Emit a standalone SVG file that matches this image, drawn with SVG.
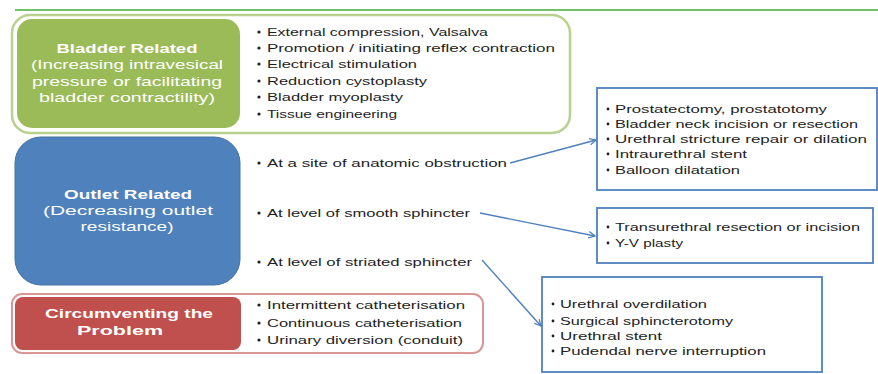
<svg xmlns="http://www.w3.org/2000/svg" width="878" height="374" viewBox="0 0 878 374">
  <defs>
    <marker id="arrow" viewBox="0 0 10 10" refX="9" refY="5" markerWidth="8" markerHeight="8" markerUnits="userSpaceOnUse" orient="auto">
      <path d="M1,1 L9,5 L1,9" fill="none" stroke="#4f81bd" stroke-width="1.6"/>
    </marker>
    <style>
      .head { font-family: "Liberation Sans", Arial, sans-serif; font-size: 13px; fill: #ffffff; text-anchor: middle; }
      .head-b { font-weight: bold; }
      .item { font-family: "Liberation Sans", Arial, sans-serif; font-size: 11px; fill: #1e1e1e; }
      .dot { fill: #1e1e1e; }
      .box { fill: #ffffff; stroke: #4f81bd; stroke-width: 1.8; }
      .link { fill: none; stroke: #4f81bd; stroke-width: 1.4; marker-end: url(#arrow); }
    </style>
  </defs>

  <rect width="878" height="374" fill="#ffffff"/>

  <!-- header rule -->
  <line x1="15" y1="10" x2="878" y2="10" stroke="#72c069" stroke-width="2"/>

  <!-- Bladder related group -->
  <g id="bladder">
    <rect x="12" y="15" width="558" height="118" rx="18" fill="#ffffff" stroke="#b9d18f" stroke-width="2.5"/>
    <rect x="17" y="19" width="223" height="109" rx="15" fill="#9bbb59"/>
    <text class="head head-b" x="127" y="53" textLength="141" lengthAdjust="spacingAndGlyphs">Bladder Related</text>
    <text class="head" x="127" y="69" textLength="192" lengthAdjust="spacingAndGlyphs">(Increasing intravesical</text>
    <text class="head" x="127" y="86" textLength="190" lengthAdjust="spacingAndGlyphs">pressure or facilitating</text>
    <text class="head" x="127" y="102" textLength="176" lengthAdjust="spacingAndGlyphs">bladder contractility)</text>
    <g>
      <circle class="dot" cx="259" cy="32" r="1.6"/>
      <text class="item" x="267" y="36" textLength="221" lengthAdjust="spacingAndGlyphs">External compression, Valsalva</text>
      <circle class="dot" cx="259" cy="48" r="1.6"/>
      <text class="item" x="267" y="52" textLength="288" lengthAdjust="spacingAndGlyphs">Promotion / initiating reflex contraction</text>
      <circle class="dot" cx="259" cy="64" r="1.6"/>
      <text class="item" x="267" y="68" textLength="150" lengthAdjust="spacingAndGlyphs">Electrical stimulation</text>
      <circle class="dot" cx="259" cy="81" r="1.6"/>
      <text class="item" x="267" y="85" textLength="160" lengthAdjust="spacingAndGlyphs">Reduction cystoplasty</text>
      <circle class="dot" cx="259" cy="97" r="1.6"/>
      <text class="item" x="267" y="101" textLength="136" lengthAdjust="spacingAndGlyphs">Bladder myoplasty</text>
      <circle class="dot" cx="259" cy="114" r="1.6"/>
      <text class="item" x="267" y="118" textLength="130" lengthAdjust="spacingAndGlyphs">Tissue engineering</text>
    </g>
  </g>

  <!-- Outlet related group -->
  <g id="outlet">
    <rect x="15" y="137" width="225" height="148" rx="26" fill="#4f81bd" stroke="#46729f" stroke-width="1"/>
    <text class="head head-b" x="128" y="199" textLength="128" lengthAdjust="spacingAndGlyphs">Outlet Related</text>
    <text class="head" x="128" y="215" textLength="170" lengthAdjust="spacingAndGlyphs">(Decreasing outlet</text>
    <text class="head" x="127" y="231" textLength="93" lengthAdjust="spacingAndGlyphs">resistance)</text>
    <circle class="dot" cx="259" cy="163" r="1.6"/>
    <text class="item" x="267" y="167" textLength="240" lengthAdjust="spacingAndGlyphs">At a site of anatomic obstruction</text>
    <circle class="dot" cx="259" cy="213" r="1.6"/>
    <text class="item" x="267" y="217" textLength="203" lengthAdjust="spacingAndGlyphs">At level of smooth sphincter</text>
    <circle class="dot" cx="259" cy="262" r="1.6"/>
    <text class="item" x="267" y="266" textLength="205" lengthAdjust="spacingAndGlyphs">At level of striated sphincter</text>
  </g>

  <!-- Circumventing group -->
  <g id="circumvent">
    <rect x="12" y="294" width="471" height="59" rx="10" fill="#ffffff" stroke="#d99694" stroke-width="2"/>
    <rect x="15" y="297" width="226" height="53" rx="8" fill="#c0504d"/>
    <text class="head head-b" x="129" y="318" textLength="168" lengthAdjust="spacingAndGlyphs">Circumventing the</text>
    <text class="head head-b" x="120" y="335" textLength="86" lengthAdjust="spacingAndGlyphs">Problem</text>
    <circle class="dot" cx="259" cy="305" r="1.6"/>
    <text class="item" x="267" y="309" textLength="198" lengthAdjust="spacingAndGlyphs">Intermittent catheterisation</text>
    <circle class="dot" cx="259" cy="323" r="1.6"/>
    <text class="item" x="267" y="327" textLength="195" lengthAdjust="spacingAndGlyphs">Continuous catheterisation</text>
    <circle class="dot" cx="259" cy="340" r="1.6"/>
    <text class="item" x="267" y="344" textLength="196" lengthAdjust="spacingAndGlyphs">Urinary diversion (conduit)</text>
  </g>

  <!-- Anatomic obstruction procedures -->
  <g id="obstruction">
    <rect class="box" x="597" y="88" width="280" height="102"/>
    <circle class="dot" cx="608" cy="109" r="1.4"/>
    <text class="item" x="615" y="113" textLength="212" lengthAdjust="spacingAndGlyphs">Prostatectomy, prostatotomy</text>
    <circle class="dot" cx="608" cy="124" r="1.4"/>
    <text class="item" x="615" y="128" textLength="243" lengthAdjust="spacingAndGlyphs">Bladder neck incision or resection</text>
    <circle class="dot" cx="608" cy="139" r="1.4"/>
    <text class="item" x="615" y="143" textLength="252" lengthAdjust="spacingAndGlyphs">Urethral stricture repair or dilation</text>
    <circle class="dot" cx="608" cy="154" r="1.4"/>
    <text class="item" x="615" y="158" textLength="132" lengthAdjust="spacingAndGlyphs">Intraurethral stent</text>
    <circle class="dot" cx="608" cy="170" r="1.4"/>
    <text class="item" x="615" y="174" textLength="125" lengthAdjust="spacingAndGlyphs">Balloon dilatation</text>
  </g>

  <!-- Smooth sphincter procedures -->
  <g id="smooth">
    <rect class="box" x="597" y="208" width="276" height="55"/>
    <circle class="dot" cx="608" cy="227" r="1.4"/>
    <text class="item" x="615" y="231" textLength="245" lengthAdjust="spacingAndGlyphs">Transurethral resection or incision</text>
    <circle class="dot" cx="608" cy="243" r="1.4"/>
    <text class="item" x="615" y="247" textLength="68" lengthAdjust="spacingAndGlyphs">Y-V plasty</text>
  </g>

  <!-- Striated sphincter procedures -->
  <g id="striated">
    <rect class="box" x="542" y="277" width="280" height="95"/>
    <circle class="dot" cx="553" cy="304" r="1.4"/>
    <text class="item" x="560" y="308" textLength="147" lengthAdjust="spacingAndGlyphs">Urethral overdilation</text>
    <circle class="dot" cx="553" cy="321" r="1.4"/>
    <text class="item" x="560" y="325" textLength="173" lengthAdjust="spacingAndGlyphs">Surgical sphincterotomy</text>
    <circle class="dot" cx="553" cy="336" r="1.4"/>
    <text class="item" x="560" y="340" textLength="102" lengthAdjust="spacingAndGlyphs">Urethral stent</text>
    <circle class="dot" cx="553" cy="351" r="1.4"/>
    <text class="item" x="560" y="355" textLength="206" lengthAdjust="spacingAndGlyphs">Pudendal nerve interruption</text>
  </g>

  <!-- connectors -->
  <g id="connectors">
    <line class="link" x1="510" y1="163" x2="596" y2="140"/>
    <line class="link" x1="480" y1="213" x2="595" y2="236"/>
    <line class="link" x1="482" y1="260" x2="541" y2="326"/>
  </g>
</svg>
